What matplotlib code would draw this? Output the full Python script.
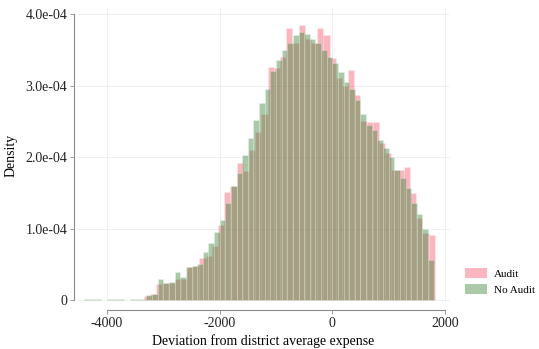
import numpy as np
import matplotlib
matplotlib.use("Agg")
import matplotlib.pyplot as plt
from matplotlib.patches import Patch

# histogram bins (start, width) and bar heights in units of 1e-4
noaudit_start = -4400.
noaudit_width = 100.
noaudit_dens = [0.01, 0.01, 0.01, 0.0, 0.01, 0.01, 0.01, 0.0, 0.01, 0.01,
                0.02, 0.07, 0.08, 0.29, 0.24, 0.25, 0.39, 0.32, 0.46, 0.47,
                0.50, 0.67, 0.80, 0.95, 1.12, 1.36, 1.60, 1.78, 2.03, 2.27,
                2.52, 2.76, 2.95, 3.20, 3.36, 3.50, 3.60, 3.71, 3.75, 3.72,
                3.65, 3.60, 3.50, 3.40, 3.31, 3.19, 3.05, 2.95, 2.80, 2.60,
                2.45, 2.38, 2.24, 2.13, 2.00, 1.82, 1.70, 1.56, 1.36, 1.20,
                1.00, 0.56]

audit_start = -3350.
audit_width = 110.
audit_dens = [0.06, 0.08, 0.22, 0.24, 0.24, 0.30, 0.30, 0.46, 0.47, 0.59,
              0.62, 0.75, 1.05, 1.51, 1.60, 1.92, 1.80, 2.10, 2.35, 2.60,
              3.26, 3.25, 3.40, 3.80, 3.60, 3.84, 3.65, 3.60, 3.80, 3.70,
              3.38, 3.10, 3.00, 3.21, 2.87, 2.50, 2.49, 2.49, 2.20, 2.05,
              1.82, 1.82, 1.86, 1.50, 1.15, 0.94, 0.91]

xticks = [-4000, -2000, 0, 2000]
yticks = [0, 1e-4, 2e-4, 3e-4, 4e-4]
ylabels = ["0", "1.0e-04", "2.0e-04", "3.0e-04", "4.0e-04"]

pink = (0.95, 0.25, 0.33, 0.38)
green = (0.20, 0.50, 0.20, 0.42)

plt.rcParams['font.family'] = ['Liberation Serif', 'DejaVu Serif']

fig = plt.figure(figsize=(5.39, 3.49), dpi=100)
ax = fig.add_axes([77/539, 47/349, 373/539, 294/349])


def draw_hist(ax, start, width, dens, color):
    dens = np.asarray(dens) * 1e-4
    lefts = start + width * np.arange(len(dens))
    ax.bar(lefts, dens, width=width, align='edge', color=color,
           edgecolor=(1, 1, 1, 0.3), linewidth=0.5, zorder=3)


draw_hist(ax, audit_start, audit_width, audit_dens, pink)
draw_hist(ax, noaudit_start, noaudit_width, noaudit_dens, green)

ax.set_xlim(-4533, 2089)
ax.set_ylim(-0.028e-4, 4.084e-4)

ax.set_xticks(xticks)
ax.set_xticklabels([str(t) for t in xticks], fontsize=7.5)
ax.set_yticks(yticks)
ax.set_yticklabels(ylabels, fontsize=7.5)
ax.grid(True, color='#ededed', linewidth=0.6, zorder=0)

for side in ['top', 'right']:
    ax.spines[side].set_visible(False)
ax.spines['left'].set_position(('outward', 2))
ax.spines['left'].set_bounds(0, 4e-4)
ax.spines['bottom'].set_position(('outward', 6))
ax.spines['bottom'].set_bounds(-4000, 2000)
for side in ['left', 'bottom']:
    ax.spines[side].set_color('#8a8a8a')
    ax.spines[side].set_linewidth(0.8)
ax.tick_params(colors='#8a8a8a', labelcolor='#222222', length=3, width=0.6, pad=2)

ax.set_xlabel("Deviation from district average expense", fontsize=10, labelpad=3)
ax.set_ylabel("Density", fontsize=10, labelpad=6)

handles = [Patch(facecolor=pink, edgecolor='none', label='Audit'),
           Patch(facecolor=green, edgecolor='none', label='No Audit')]
fig.legend(handles=handles, loc='lower left', bbox_to_anchor=(455/539, 44/349),
           frameon=False, fontsize=8, handlelength=2.0, handleheight=1.0,
           handletextpad=0.6, labelspacing=0.5)

fig.savefig("out.png", dpi=100)
